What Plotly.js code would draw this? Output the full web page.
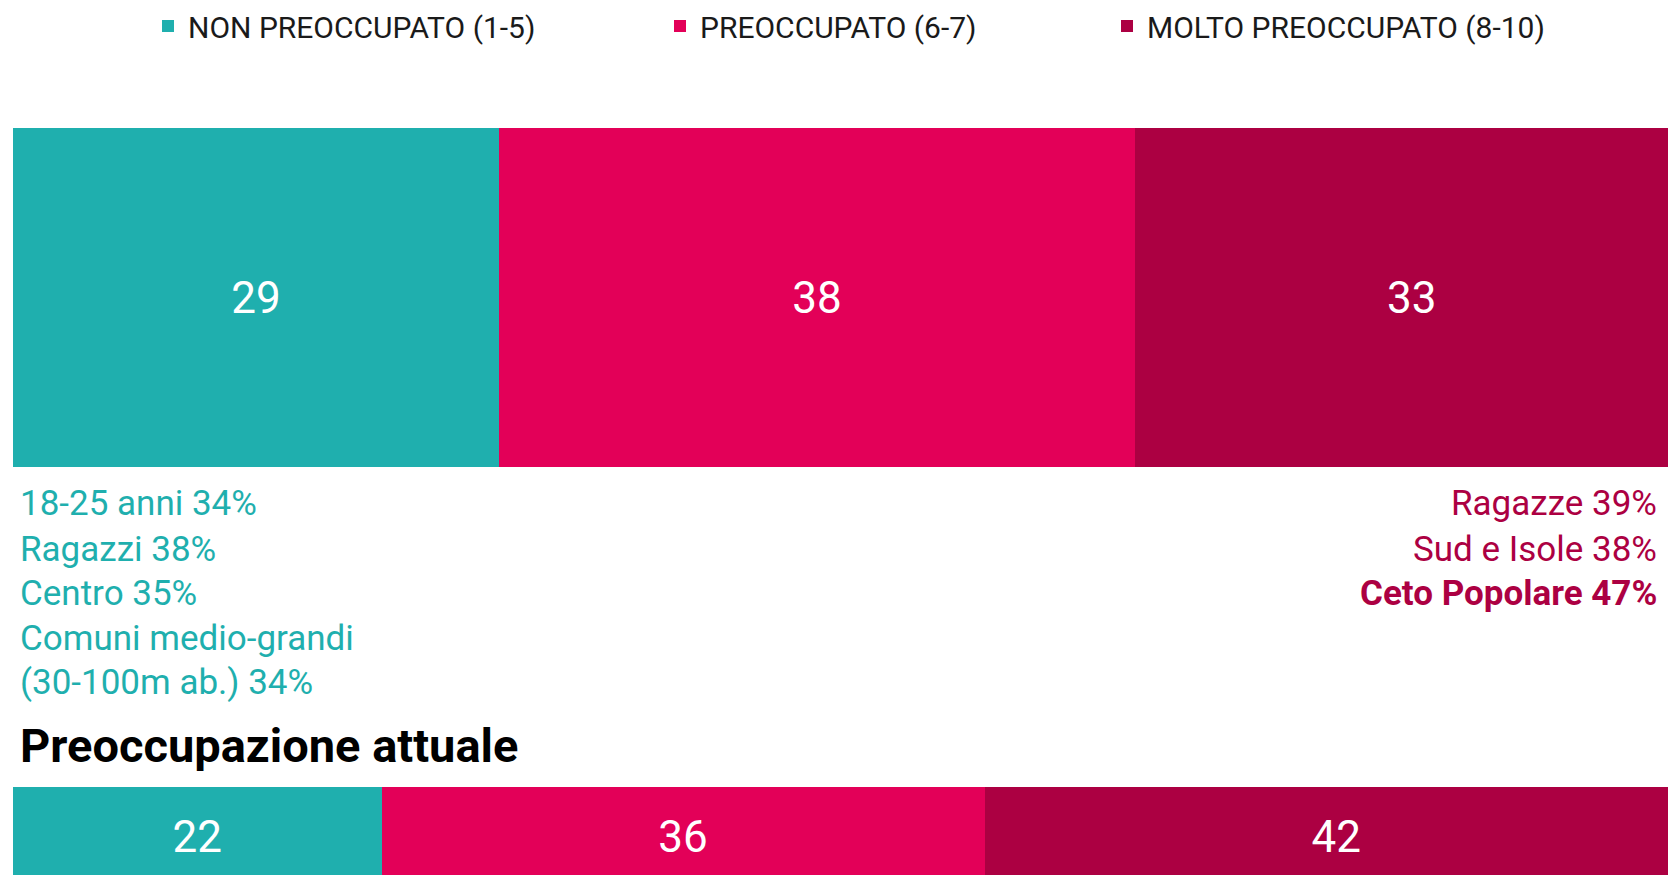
<!DOCTYPE html>
<html>
<head>
<meta charset="utf-8">
<script src="https://cdn.plot.ly/plotly-3.0.1.min.js"></script>
<style>
  html, body { margin: 0; padding: 0; background: #ffffff; }
  #chart { width: 1668px; height: 875px; }
</style>
</head>
<body>
<div id="chart"></div>
<script>
// ---- data ----
const seriesNames = ['NON PREOCCUPATO (1-5)', 'PREOCCUPATO (6-7)', 'MOLTO PREOCCUPATO (8-10)'];
const rowTop = ['Preoccupazione generale'];
const rowBottom = ['Preoccupazione attuale'];
const nonPreoccupato = [29, 22];
const preoccupato = [38, 36];
const moltoPreoccupato = [33, 42];
const leftNotes = ['18-25 anni 34%', 'Ragazzi 38%', 'Centro 35%', 'Comuni medio-grandi', '(30-100m ab.) 34%'];
const rightNotes = ['Ragazze 39%', 'Sud e Isole 38%', '<b>Ceto Popolare 47%</b>'];
const sectionTitle = 'Preoccupazione attuale';

// ---- styles ----
const colors = ['#1FAFAE', '#E30058', '#AC0042'];
const FONT = 'Roboto, "Open Sans", sans-serif';
const W = 1668, H = 875;
const L = 13, PW = W - L;
const values = [nonPreoccupato, preoccupato, moltoPreoccupato];
const legendIds = ['legend', 'legend2', 'legend3'];

const traces = [];
values.forEach((vals, i) => {
  traces.push({
    type: 'bar', orientation: 'h',
    name: seriesNames[i],
    x: [vals[0]], y: rowTop,
    xaxis: 'x', yaxis: 'y',
    marker: { color: colors[i], line: { width: 0 } },
    texttemplate: '%{x}', textposition: 'inside', insidetextanchor: 'middle',
    constraintext: 'none',
    textfont: { family: FONT, size: 44, color: '#ffffff' },
    hoverinfo: 'skip',
    legend: legendIds[i], showlegend: true
  });
  traces.push({
    type: 'bar', orientation: 'h',
    name: seriesNames[i],
    x: [vals[1]], y: rowBottom,
    xaxis: 'x', yaxis: 'y2',
    marker: { color: colors[i], line: { width: 0 } },
    texttemplate: '%{x}', textposition: 'inside', insidetextanchor: 'middle',
    constraintext: 'none',
    textfont: { family: FONT, size: 44, color: '#ffffff' },
    hoverinfo: 'skip',
    legend: legendIds[i], showlegend: false
  });
});

const py = p => 1 - p / H;
const px = p => (p - L) / PW;
const annotations = [];
const leftY = [503, 549, 593, 638, 682];
leftNotes.forEach((t, i) => annotations.push({
  xref: 'paper', yref: 'paper', x: px(18), y: py(leftY[i]),
  xanchor: 'left', yanchor: 'middle', showarrow: false, align: 'left',
  text: t, font: { family: FONT, size: 35, color: colors[0] }
}));
const rightY = [503, 549, 593];
rightNotes.forEach((t, i) => annotations.push({
  xref: 'paper', yref: 'paper', x: px(1659), y: py(rightY[i]),
  xanchor: 'right', yanchor: 'middle', showarrow: false, align: 'right',
  text: t, font: { family: FONT, size: 35, color: colors[2] }
}));
annotations.push({
  xref: 'paper', yref: 'paper', x: px(18), y: py(745),
  xanchor: 'left', yanchor: 'middle', showarrow: false, align: 'left',
  text: '<b>' + sectionTitle + '</b>', font: { family: FONT, size: 47, color: '#000000' }
});

function legendAt(xpx) {
  return {
    orientation: 'h', x: px(xpx), xanchor: 'left', y: py(25), yanchor: 'middle',
    xref: 'paper', yref: 'paper',
    font: { family: FONT, size: 30, color: '#1a1a1a' },
    bgcolor: 'rgba(0,0,0,0)', borderwidth: 0, itemclick: false, itemdoubleclick: false
  };
}

const layout = {
  width: W, height: H,
  margin: { l: L, r: 0, t: 0, b: 0, pad: 0 },
  paper_bgcolor: '#ffffff', plot_bgcolor: '#ffffff',
  barmode: 'stack', bargap: 0,
  font: { family: FONT },
  xaxis: { range: [0, 98.8], visible: false, fixedrange: true },
  yaxis: { domain: [py(467), py(127)], range: [-0.5, 0.5], visible: false, fixedrange: true },
  yaxis2: { domain: [0, py(787)], range: [-0.38, 0.5], visible: false, fixedrange: true },
  legend: legendAt(148),
  legend2: legendAt(660),
  legend3: legendAt(1107),
  annotations: annotations
};

Plotly.newPlot('chart', traces, layout, { displayModeBar: false, staticPlot: true });
</script>
</body>
</html>
